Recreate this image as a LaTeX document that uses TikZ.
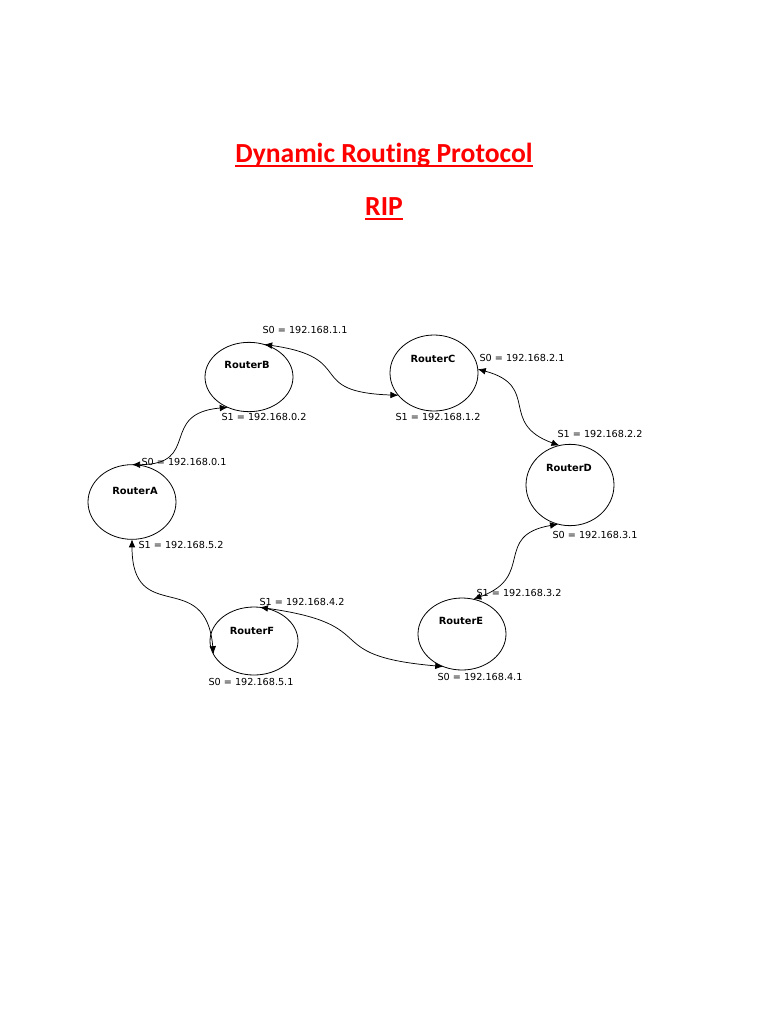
\documentclass[tikz,border=0pt]{standalone}
\usepackage{fontspec}
\setmainfont{DejaVu Sans}
\newfontfamily\titlefont[Ligatures=NoCommon]{Carlito}
\usetikzlibrary{arrows.meta, shapes.geometric, positioning}

\begin{document}
\begin{tikzpicture}[
  x=0.75pt, y=0.75pt,
  router/.style = {
    draw, ellipse, line width=0.6pt, inner sep=0pt, outer sep=0pt,
    minimum width=66pt, minimum height=54pt
  },
  rname/.style   = {font=\fontsize{7.4}{9}\selectfont\bfseries, inner sep=0pt},
  ip/.style      = {font=\fontsize{7.25}{9}\selectfont, inner sep=0pt},
  heading/.style = {font=\titlefont\fontsize{20.7}{25}\selectfont\bfseries, text=red, inner sep=0pt},
  uline/.style   = {red, line width=1.5pt},
  link/.style    = {{Latex[length=6pt,width=5pt]}-{Latex[length=6pt,width=5pt]}, line width=0.55pt},
]
\useasboundingbox (0,0) rectangle (768,-1024);

% title
\node[heading, anchor=base] (ttl) at (384,-162) {Dynamic Routing Protocol};
\node[heading, anchor=base] (rip) at (384,-215) {RIP};
\draw[uline] ([yshift=-3pt]ttl.base west) -- ([yshift=-3pt]ttl.base east);
\draw[uline] ([yshift=-3pt]rip.base west) -- ([yshift=-3pt]rip.base east);

% routers
\node[router, minimum height=56pt] (rA) at (132,-502) {};
\node[router, minimum height=52pt] (rB) at (249,-377) {};
\node[router, minimum height=57pt] (rC) at (434,-373) {};
\node[router, minimum height=61pt] (rD) at (570,-485) {};
\node[router, minimum height=54pt] (rE) at (462,-634) {};
\node[router, minimum height=51pt] (rF) at (254,-641) {};

\node[rname] (rA-name) at (135,-491) {RouterA};
\node[rname] (rB-name) at (247,-365) {RouterB};
\node[rname] (rC-name) at (433,-359) {RouterC};
\node[rname] (rD-name) at (569,-468) {RouterD};
\node[rname] (rE-name) at (461,-621) {RouterE};
\node[rname] (rF-name) at (252,-631) {RouterF};

% serial links
\draw[link] (rA.north) to[out=0,in=185,looseness=1.6] (rB.235);
\draw[link] (rB.65) to[out=-8,in=178,looseness=1.7] (rC.212);
\draw[link] (rC.5) to[out=-15,in=160,looseness=1.5] (rD.105);
\draw[link] (rD.253) to[out=190,in=20,looseness=1.5] (rE.72);
\draw[link] (rE.240) to[out=175,in=-8,looseness=1.7] (rF.80);
\draw[link] (rA.south) to[out=-90,in=95,looseness=1.6] (rF.198);

% interface addresses
\node[ip] (a-s0) at (184,-462) {S0 = 192.168.0.1};
\node[ip] (a-s1) at (181,-545) {S1 = 192.168.5.2};
\node[ip] (b-s0) at (305,-330) {S0 = 192.168.1.1};
\node[ip] (b-s1) at (264,-417) {S1 = 192.168.0.2};
\node[ip] (c-s0) at (522,-358) {S0 = 192.168.2.1};
\node[ip] (c-s1) at (438,-417) {S1 = 192.168.1.2};
\node[ip] (d-s1) at (600,-434) {S1 = 192.168.2.2};
\node[ip] (d-s0) at (595,-535) {S0 = 192.168.3.1};
\node[ip] (e-s1) at (519,-593) {S1 = 192.168.3.2};
\node[ip] (e-s0) at (480,-677) {S0 = 192.168.4.1};
\node[ip] (f-s1) at (302,-602) {S1 = 192.168.4.2};
\node[ip] (f-s0) at (251,-682) {S0 = 192.168.5.1};

\end{tikzpicture}
\end{document}
